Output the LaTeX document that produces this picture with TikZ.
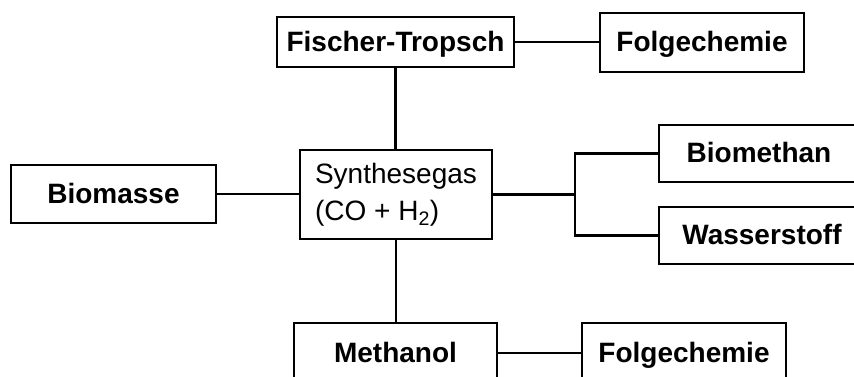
\documentclass[tikz,border=0pt]{standalone}
\usepackage{fontspec}
\setmainfont{Liberation Sans}
\begin{document}
\begin{tikzpicture}[x=1pt,y=-1pt,
  box/.style={draw, line width=2.2pt, inner sep=0pt, rectangle,
    text height=22pt, text depth=4pt,
    font=\fontsize{28}{34}\selectfont\bfseries},
  plainbox/.style={draw, line width=2.2pt, inner sep=0pt, rectangle, align=left,
    font=\fontsize{28}{37}\selectfont},
  link/.style={line width=2.2pt}]
\useasboundingbox[fill=white] (0,0) rectangle (854,376);
\clip (0,0) rectangle (854,376);
\node[box, minimum width=237pt, minimum height=50pt] (ft) at (395.5,42) {Fischer-Tropsch};
\node[box, minimum width=204pt, minimum height=59pt] (f1) at (702,42.5) {Folgechemie};
\node[plainbox, minimum width=192pt, minimum height=89pt] (syn) at (396,194.5) {Synthesegas\\(CO + H\textsubscript{2})};
\node[box, minimum width=205pt, minimum height=58pt] (bio) at (113.5,194) {Biomasse};
\node[box, minimum width=200pt, minimum height=57pt] (bm) at (759,153.5) {Biomethan};
\node[box, minimum width=206pt, minimum height=57pt] (ws) at (762,235.5) {Wasserstoff};
\node[box, minimum width=203pt, minimum height=60pt] (me) at (395.5,353) {Methanol};
\node[box, minimum width=204pt, minimum height=60pt] (f2) at (684,353) {Folgechemie};
\coordinate (br) at (575,195);
\draw[link] (ft.east) -- (ft.east -| f1.west);
\draw[link] (ft.south) -- (ft.south |- syn.north);
\draw[link] (bio.east) -- (bio.east -| syn.west);
\draw[link] (syn.east) -- (syn.east -| br);
\draw[link] (bm.west) -- (bm.west -| br) -- (ws.west -| br) -- (ws.west);
\draw[link] (syn.south) -- (syn.south |- me.north);
\draw[link] (me.east) -- (me.east -| f2.west);
\end{tikzpicture}
\end{document}
